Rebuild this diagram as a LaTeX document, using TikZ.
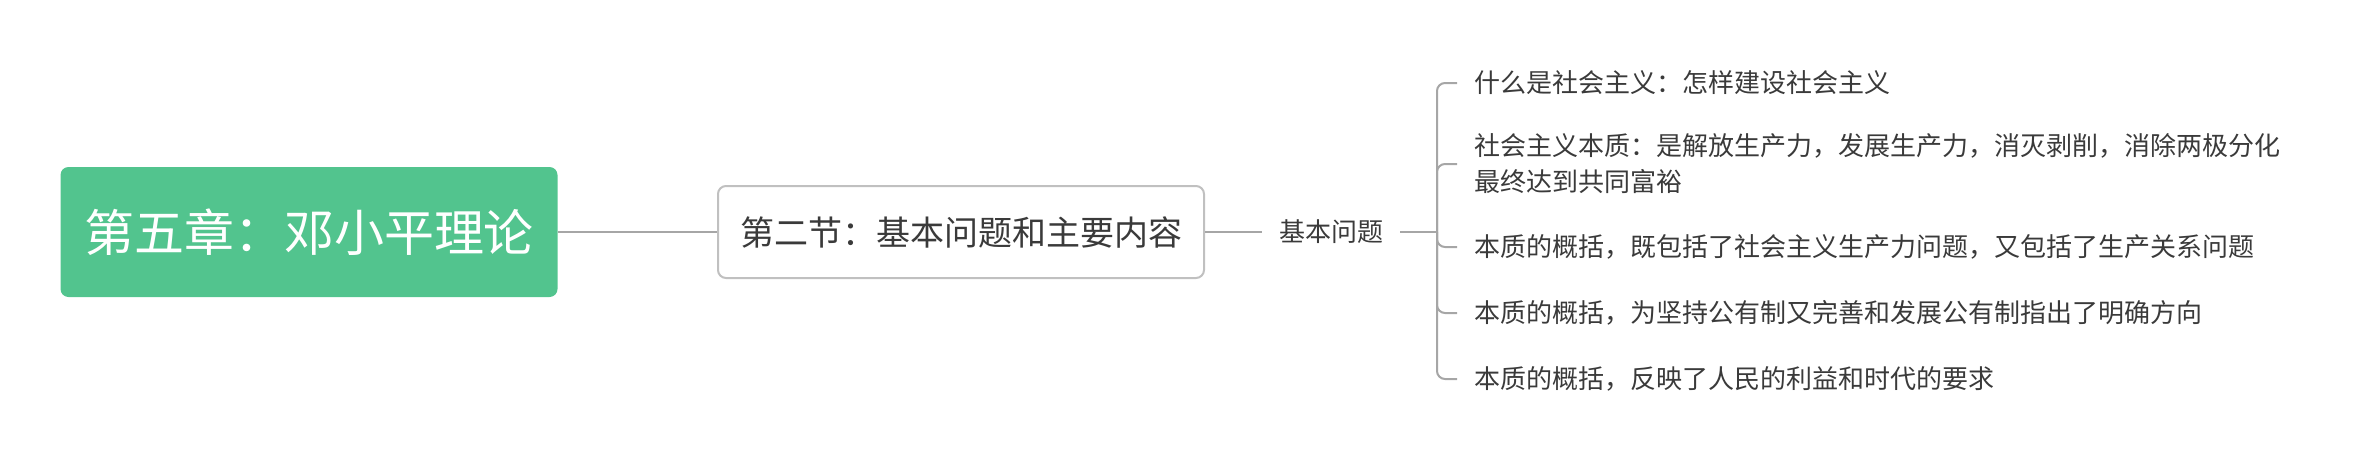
\documentclass[tikz,border=0pt]{standalone}
\usepackage{fontspec}
\setmainfont{Noto Sans CJK SC}
\definecolor{rootgreen}{HTML}{52C48E}
\definecolor{boxgray}{HTML}{C0C0C0}
\definecolor{linegray}{HTML}{A6A6A6}
\definecolor{textgray}{HTML}{3A3A3A}
\begin{document}
\begin{tikzpicture}[x=0.5pt,y=-0.5pt]

      \useasboundingbox (0,0) rectangle (2358,466);

      \node (root) at (309,232) [fill=rootgreen,text=white,rounded corners=4pt,
        minimum width=248.5pt,minimum height=65pt,
        font=\fontsize{25}{30}\selectfont] {第五章：邓小平理论};

      \node (sec) at (961,232) [draw=boxgray,line width=1pt,text=textgray,rounded corners=4pt,
        minimum width=243pt,minimum height=46pt,
        font=\fontsize{17}{20}\selectfont] {第二节：基本问题和主要内容};

      \node (basic) at (1331,232) [text=textgray,inner xsep=8.5pt,
        font=\fontsize{13}{16}\selectfont] {基本问题};

      \coordinate (hub) at (1437,232);

      \begin{scope}[every node/.style={anchor=west,text=textgray,inner xsep=8.5pt,
          align=left,font=\fontsize{13}{18}\selectfont}]
        \node (1) at (1457,83)  {什么是社会主义：怎样建设社会主义};
        \node (2) at (1457,164) {社会主义本质：是解放生产力，发展生产力，消灭剥削，消除两极分化\\最终达到共同富裕};
        \node (3) at (1457,247) {本质的概括，既包括了社会主义生产力问题，又包括了生产关系问题};
        \node (4) at (1457,313) {本质的概括，为坚持公有制又完善和发展公有制指出了明确方向};
        \node (5) at (1457,379) {本质的概括，反映了人民的利益和时代的要求};
      \end{scope}

      \begin{scope}[linegray,line width=1pt]
        \begin{scope}[every edge/.style={draw}]
          \path (root)  edge (sec);
          \path (sec)   edge (basic);
          \path (basic) edge (hub);
        \end{scope}
        \begin{scope}[rounded corners=4pt]
          \draw (hub) |- (1.west);
          \draw (hub) |- (2.west);
          \draw (hub) |- (3.west);
          \draw (hub) |- (4.west);
          \draw (hub) |- (5.west);
        \end{scope}
      \end{scope}

    \end{tikzpicture}
\end{document}
